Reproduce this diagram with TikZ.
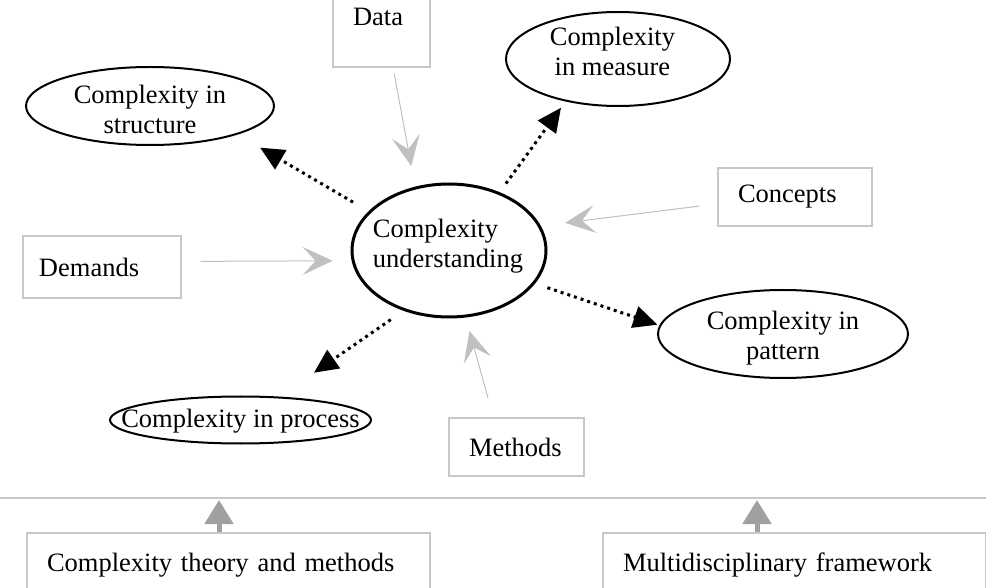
\documentclass[tikz,border=0pt]{standalone}
\usepackage{fontspec}
\setmainfont{Liberation Serif}
\usetikzlibrary{arrows.meta,shapes.geometric}
\definecolor{boxline}{HTML}{C8C8C8}
\definecolor{feedgray}{HTML}{C0C0C0}
\definecolor{basegray}{HTML}{A0A0A0}

\begin{document}
\begin{tikzpicture}[x=0.5pt,y=-0.5pt,
  every node/.style={font=\fontsize{13.25pt}{15pt}\selectfont},
  inbox/.style={draw=boxline, line width=0.6pt, rectangle, inner sep=0pt, align=left},
  topic/.style={draw=black, line width=1pt, ellipse, inner sep=0pt},
  core/.style={topic, line width=1.5pt},
  caption/.style={inner sep=0pt, align=center},
  feed/.style={draw=feedgray, line width=0.5pt, -{Stealth[length=15pt,width=14pt,inset=6.5pt]}},
  spread/.style={draw=black, line width=1.5pt, dash pattern=on 1.5pt off 2pt, -{Triangle[length=12pt,width=11pt]}},
  base/.style={draw=basegray, line width=2.5pt, -{Triangle[length=12pt,width=14pt]}},
]
\useasboundingbox (0,0) rectangle (986,588);
\clip (0,0) rectangle (986,588);

% input boxes
\node[inbox, minimum width=48.5pt, minimum height=50pt, text width=28.5pt] (data) at (381.5,17) {Data};
\node[inbox, minimum width=77pt, minimum height=29pt, text width=57pt] (concepts) at (795,197) {Concepts};
\node[inbox, minimum width=79pt, minimum height=31pt, text width=63pt] (demands) at (102,267) {Demands};
\node[inbox, minimum width=67.5pt, minimum height=29pt, text width=47.5pt] (methods) at (516.5,447) {Methods};
\node[inbox, minimum width=201.5pt, minimum height=32pt, text width=181.5pt] (theory) at (228.5,565) {Complexity theory and methods};
\node[inbox, minimum width=191.25pt, minimum height=32pt, text width=171.25pt] (frame) at (794.25,565) {Multidisciplinary framework};

% ellipses
\node[topic, minimum width=124pt, minimum height=39pt] (structure) at (150,106) {};
\node[topic, minimum width=112pt, minimum height=47pt] (measure) at (618,59) {};
\node[core, minimum width=97pt, minimum height=66.5pt] (cu) at (449,250.5) {};
\node[topic, minimum width=125pt, minimum height=44pt] (pattern) at (783,334) {};
\node[topic, minimum width=130.5pt, minimum height=23.5pt] (process) at (240.5,420) {};

% ellipse captions
\node[caption] (structure-t) at (150,109.5) {Complexity in\\structure};
\node[caption] (measure-t) at (612.5,51) {Complexity\\in measure};
\node[caption, align=left] (cu-t) at (448,246.5) {Complexity\\understanding};
\node[caption] (pattern-t) at (783,338) {Complexity in\\pattern};
\node[caption] (process-t) at (240.5,420.8) {Complexity in process};

% inputs feeding the core
\draw[feed, shorten <=3pt, shorten >=10.5pt] (data.-77) -- (cu.118);
\draw[feed, shorten <=9.5pt, shorten >=9.5pt] (demands.4) -- (cu.186.5);
\draw[feed, shorten <=9pt, shorten >=12.25pt] (concepts.185.9) -- (cu.15.8);
\draw[feed, shorten <=10pt, shorten >=7pt] (methods.128.4) -- (cu.-76.9);

% core spreading to the aspects
\draw[spread, shorten <=9pt, shorten >=13pt] (cu.154.2) -- (structure.-18.1);
\draw[spread, shorten <=5.3pt, shorten >=3.85pt] (cu.49) -- (measure.219.7);
\draw[spread, shorten <=6.5pt, shorten >=1pt] (cu.-21.1) -- (pattern.176.7);
\draw[spread, shorten <=7.75pt, shorten >=21pt] (cu.233.6) -- (process.31.5);

% foundation
\draw[draw=boxline, line width=0.6pt] (0,498) -- (986,498);
\coordinate (theory-up) at (219,500);
\coordinate (frame-up) at (757,500);
\draw[base] (theory-up |- theory.north) -- (theory-up);
\draw[base] (frame-up |- frame.north) -- (frame-up);
\end{tikzpicture}
\end{document}
